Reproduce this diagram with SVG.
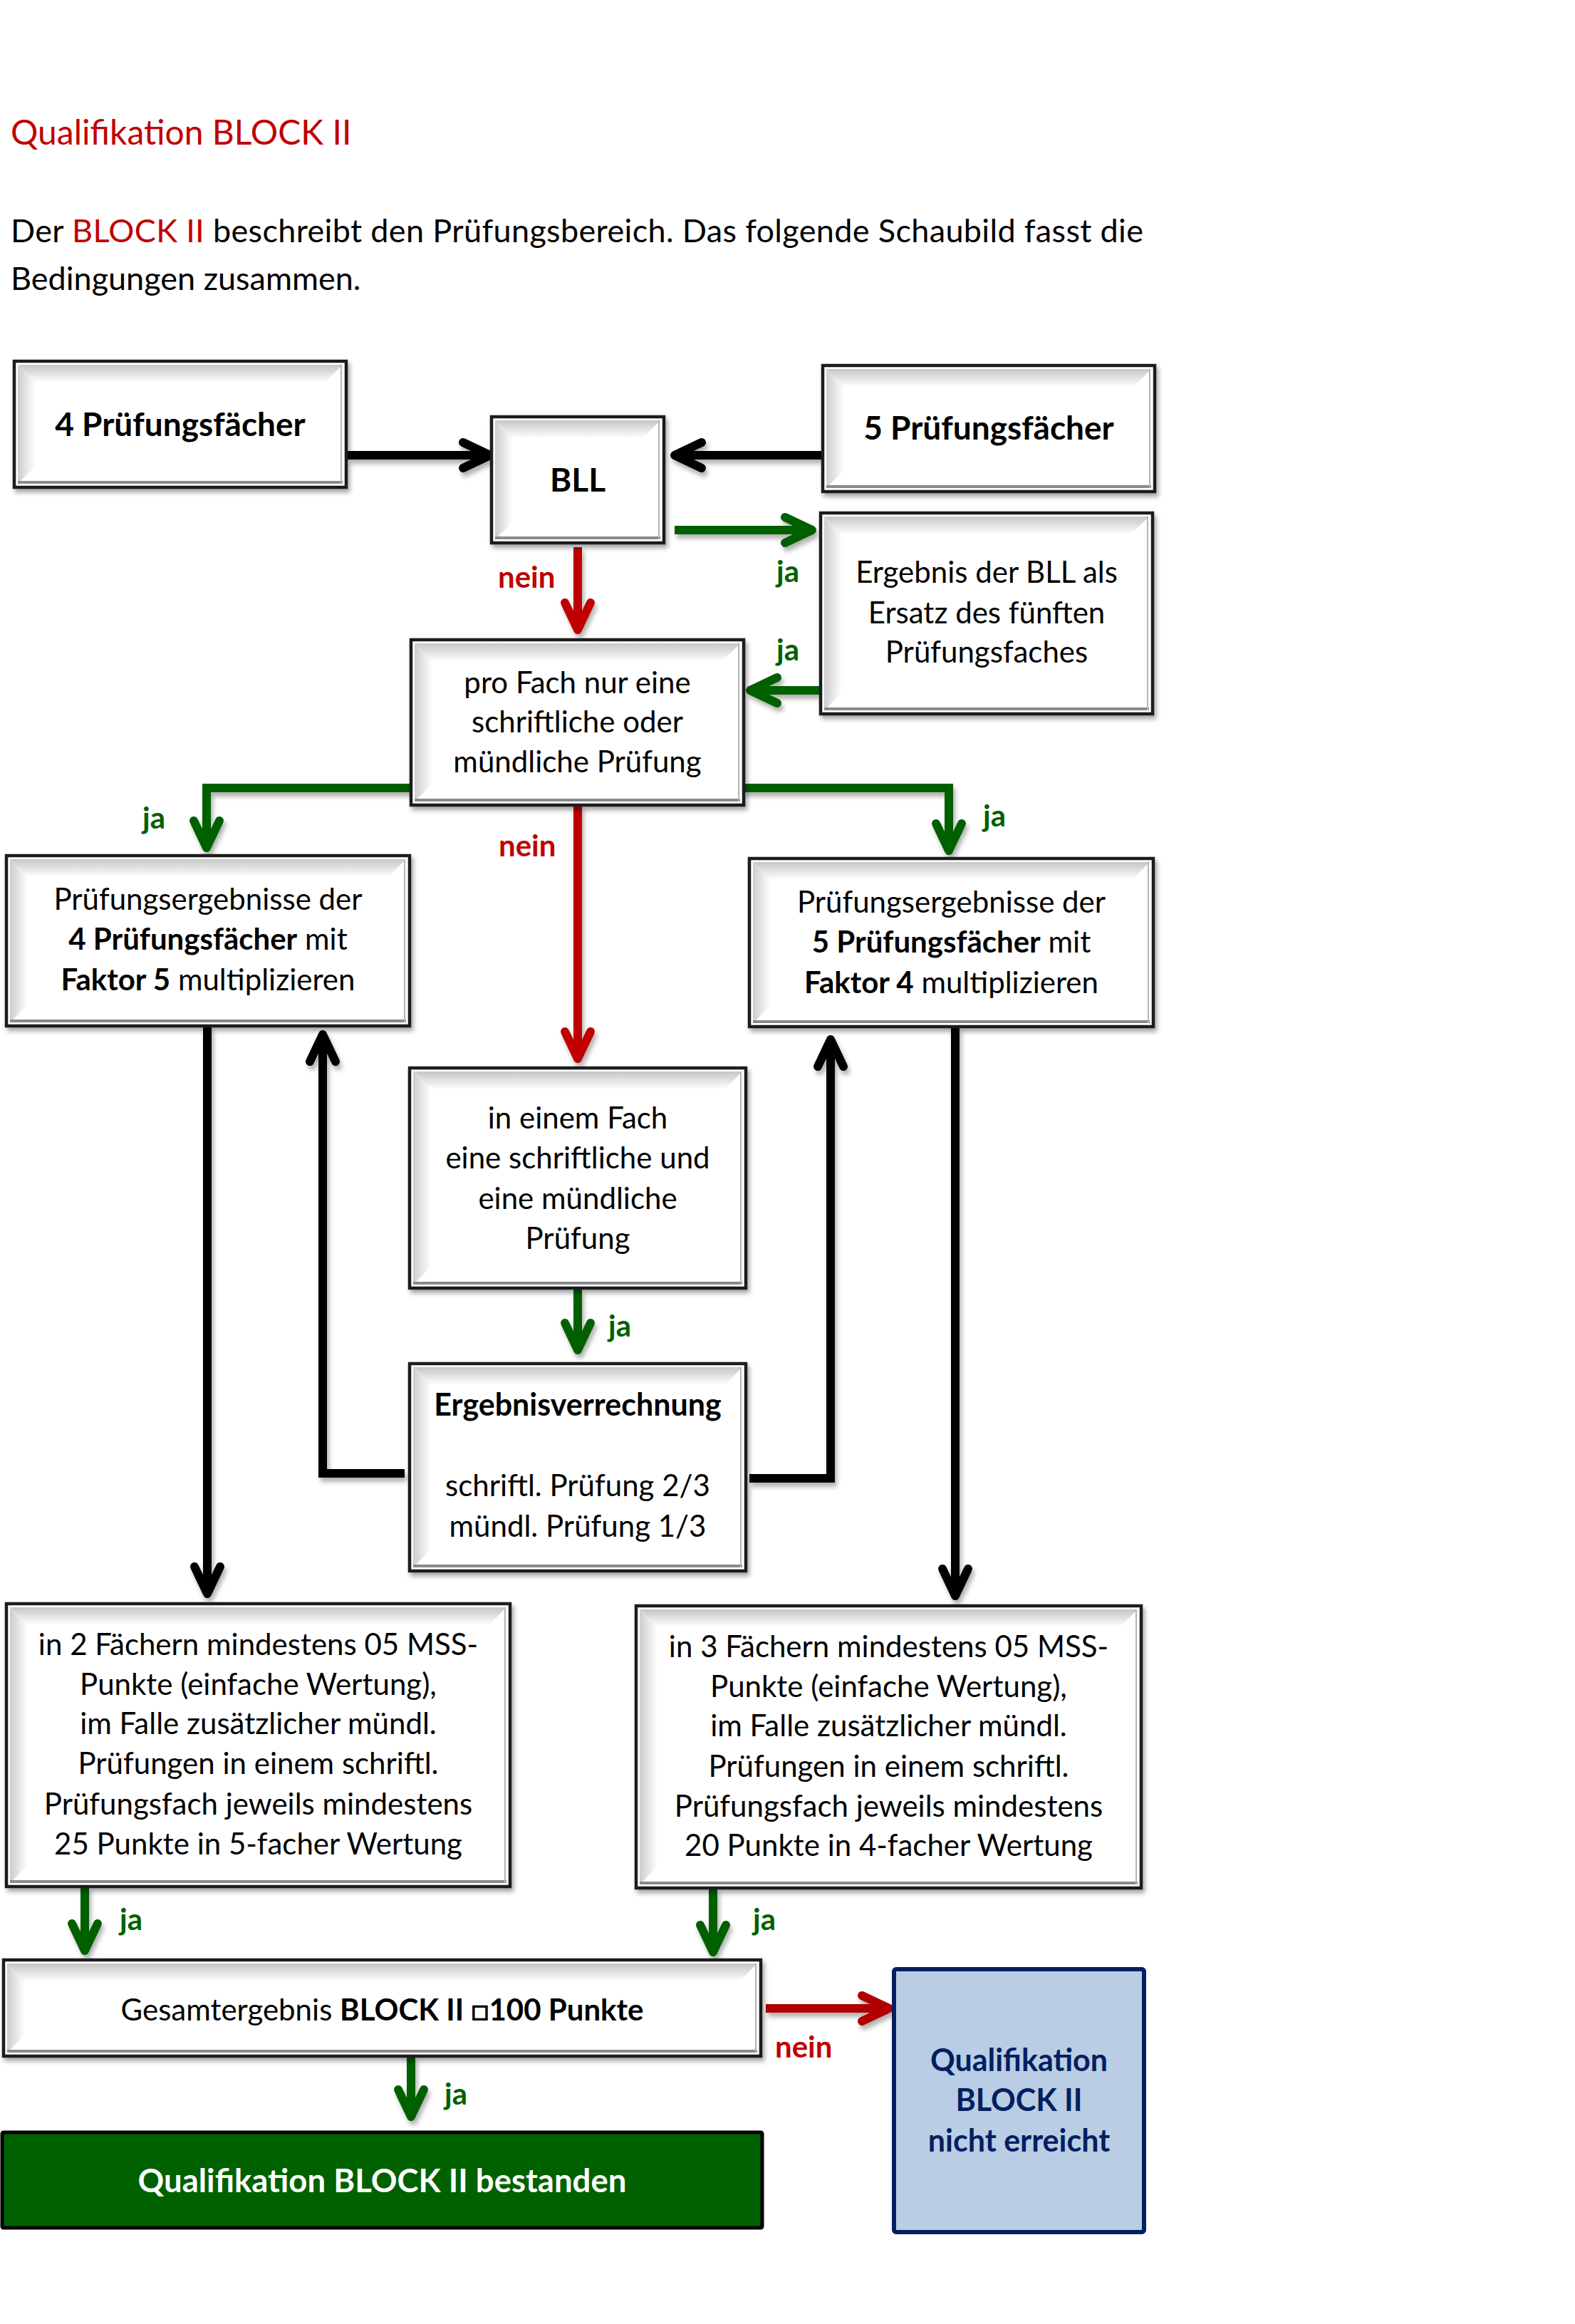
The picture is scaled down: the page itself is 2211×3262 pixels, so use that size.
<svg xmlns="http://www.w3.org/2000/svg" width="2211" height="3262" viewBox="0 0 2211 3262">
<style>
text{font-family:Lato,"Liberation Sans",sans-serif;fill:#000}
.r{font-size:42px}
.p{font-size:45px}
.b{font-size:46px;font-weight:bold}
.bb{font-weight:bold}
.b43{font-size:43px;font-weight:bold}
.m{text-anchor:middle}
.lbj{font-size:42px;font-weight:bold;fill:#006100}
.lbn{font-size:42px;font-weight:bold;fill:#c00000}
.box{fill:#fff;stroke:#1e1e1e;stroke-width:4.5;filter:url(#sh)}
.bt{fill:url(#gT)}
.bl{fill:url(#gL)}
.bo{stroke:#8a8a8a;stroke-width:4;fill:none}
.ri{stroke:#b4b4b4;stroke-width:2;fill:none}
.c{fill:none;stroke-width:12;stroke-linejoin:miter}
.k{stroke:#000}
.g{stroke:#006100}
.rd{stroke:#c00000}
</style>
<defs>
<linearGradient id="gT" x1="0" y1="0" x2="0" y2="1"><stop offset="0" stop-color="#c6c6c6"/><stop offset="1" stop-color="#fdfdfd"/></linearGradient>
<linearGradient id="gL" x1="0" y1="0" x2="1" y2="0"><stop offset="0" stop-color="#cdcdcd"/><stop offset="1" stop-color="#fdfdfd"/></linearGradient>
<filter id="sh" x="-10%" y="-10%" width="125%" height="130%"><feDropShadow dx="3" dy="5" stdDeviation="3" flood-color="#000" flood-opacity="0.35"/></filter>
<filter id="shc" x="-5%" y="-5%" width="115%" height="115%"><feDropShadow dx="3" dy="6" stdDeviation="3" flood-color="#000" flood-opacity="0.3"/></filter>
<marker id="mk" viewBox="-60 -40 80 80" refX="0" refY="0" markerWidth="80" markerHeight="80" markerUnits="userSpaceOnUse" orient="auto" overflow="visible"><path d="M-38,-18 L0,0 L-38,18" fill="none" stroke="#000" stroke-width="12" stroke-linecap="round" stroke-linejoin="round"/></marker>
<marker id="mg" viewBox="-60 -40 80 80" refX="0" refY="0" markerWidth="80" markerHeight="80" markerUnits="userSpaceOnUse" orient="auto" overflow="visible"><path d="M-38,-18 L0,0 L-38,18" fill="none" stroke="#006100" stroke-width="12" stroke-linecap="round" stroke-linejoin="round"/></marker>
<marker id="mr" viewBox="-60 -40 80 80" refX="0" refY="0" markerWidth="80" markerHeight="80" markerUnits="userSpaceOnUse" orient="auto" overflow="visible"><path d="M-38,-18 L0,0 L-38,18" fill="none" stroke="#c00000" stroke-width="12" stroke-linecap="round" stroke-linejoin="round"/></marker>
<marker id="mr2" viewBox="-60 -40 80 80" refX="0" refY="0" markerWidth="80" markerHeight="80" markerUnits="userSpaceOnUse" orient="auto" overflow="visible"><path d="M-38,-18 L0,0 L-38,18" fill="none" stroke="#b00000" stroke-width="12" stroke-linecap="round" stroke-linejoin="round"/></marker>
</defs>
<rect width="2211" height="3262" fill="#fff"/>

<g id="header">
<text x="15" y="203" style="font-size:48px;fill:#c00000">Qualifikation BLOCK II</text>
<text x="15" y="340" class="p" textLength="1590" lengthAdjust="spacing">Der <tspan fill="#c00000">BLOCK II</tspan> beschreibt den Prüfungsbereich. Das folgende Schaubild fasst die</text>
<text x="15" y="407" class="p">Bedingungen zusammen.</text>
</g>

<g id="connectors" filter="url(#shc)">
<path class="c k" d="M488,639 H688" marker-end="url(#mk)"/>
<path class="c k" d="M1153,639 H947" marker-end="url(#mk)"/>
<path class="c g" d="M947,744 H1140" marker-end="url(#mg)"/>
<path class="c rd" d="M811,768 V884" marker-end="url(#mr)"/>
<path class="c g" d="M1150,969 H1053" marker-end="url(#mg)"/>
<path class="c g" d="M578,1106 H290 V1190" marker-end="url(#mg)"/>
<path class="c g" d="M1043,1106 H1332 V1194" marker-end="url(#mg)"/>
<path class="c rd" d="M811,1130 V1486" marker-end="url(#mr)"/>
<path class="c g" d="M811,1809 V1895" marker-end="url(#mg)"/>
<path class="c k" d="M568,2068 H453 V1452" marker-end="url(#mk)"/>
<path class="c k" d="M1052,2075 H1166 V1459" marker-end="url(#mk)"/>
<path class="c k" d="M291,1440 V2237" marker-end="url(#mk)"/>
<path class="c k" d="M1341,1441 V2240" marker-end="url(#mk)"/>
<path class="c g" d="M119,2648 V2738" marker-end="url(#mg)"/>
<path class="c g" d="M1001,2650 V2740" marker-end="url(#mg)"/>
<path class="c" style="stroke:#b00000" d="M1075,2819 H1248" marker-end="url(#mr2)"/>
<path class="c g" d="M577,2886 V2971" marker-end="url(#mg)"/>
</g>

<g id="labels">
<text x="1090" y="817" class="lbj">ja</text>
<text x="1090" y="927" class="lbj">ja</text>
<text x="699" y="825" class="lbn">nein</text>
<text x="200" y="1163" class="lbj">ja</text>
<text x="1380" y="1160" class="lbj">ja</text>
<text x="700" y="1202" class="lbn">nein</text>
<text x="854" y="1876" class="lbj">ja</text>
<text x="168" y="2709" class="lbj">ja</text>
<text x="1057" y="2709" class="lbj">ja</text>
<text x="624" y="2954" class="lbj">ja</text>
<text x="1088" y="2888" class="lbn">nein</text>
</g>

<g id="n4pf" transform="translate(20,507)">
<rect class="box" width="466" height="177"/>
<path class="bt" d="M5,5 H461 L437,29 H29 Z"/><path class="bl" d="M5,5 L29,29 V148 L5,172 Z"/>
<path class="bo" d="M5,170 H461"/><path class="ri" d="M459,5 V172"/>
<text x="233" y="105" class="b m">4 Prüfungsfächer</text>
</g>

<g id="nbll" transform="translate(690,585)">
<rect class="box" width="242" height="177"/>
<path class="bt" d="M5,5 H237 L213,29 H29 Z"/><path class="bl" d="M5,5 L29,29 V148 L5,172 Z"/>
<path class="bo" d="M5,170 H237"/><path class="ri" d="M235,5 V172"/>
<text x="121" y="105" class="b m">BLL</text>
</g>

<g id="n5pf" transform="translate(1155,513)">
<rect class="box" width="466" height="177"/>
<path class="bt" d="M5,5 H461 L437,29 H29 Z"/><path class="bl" d="M5,5 L29,29 V148 L5,172 Z"/>
<path class="bo" d="M5,170 H461"/><path class="ri" d="M459,5 V172"/>
<text x="233" y="104" class="b m">5 Prüfungsfächer</text>
</g>

<g id="nerg" transform="translate(1152,720)">
<rect class="box" width="466" height="282"/>
<path class="bt" d="M5,5 H461 L437,29 H29 Z"/><path class="bl" d="M5,5 L29,29 V253 L5,277 Z"/>
<path class="bo" d="M5,275 H461"/><path class="ri" d="M459,5 V277"/>
<text class="r m"><tspan x="233" y="98">Ergebnis der BLL als</tspan><tspan x="233" y="155">Ersatz des fünften</tspan><tspan x="233" y="210">Prüfungsfaches</tspan></text>
</g>

<g id="npro" transform="translate(577,898)">
<rect class="box" width="467" height="232"/>
<path class="bt" d="M5,5 H462 L438,29 H29 Z"/><path class="bl" d="M5,5 L29,29 V203 L5,227 Z"/>
<path class="bo" d="M5,225 H462"/><path class="ri" d="M460,5 V227"/>
<text class="r m"><tspan x="233.5" y="75">pro Fach nur eine</tspan><tspan x="233.5" y="130">schriftliche oder</tspan><tspan x="233.5" y="186">mündliche Prüfung</tspan></text>
</g>

<g id="nl1" transform="translate(9,1201)">
<rect class="box" width="566" height="239"/>
<path class="bt" d="M5,5 H561 L537,29 H29 Z"/><path class="bl" d="M5,5 L29,29 V210 L5,234 Z"/>
<path class="bo" d="M5,232 H561"/><path class="ri" d="M559,5 V234"/>
<text class="r m"><tspan x="283" y="76">Prüfungsergebnisse der</tspan><tspan x="283" y="132"><tspan class="bb">4 Prüfungsfächer</tspan> mit</tspan><tspan x="283" y="189"><tspan class="bb">Faktor 5</tspan> multiplizieren</tspan></text>
</g>

<g id="nr1" transform="translate(1052,1205)">
<rect class="box" width="567" height="236"/>
<path class="bt" d="M5,5 H562 L538,29 H29 Z"/><path class="bl" d="M5,5 L29,29 V207 L5,231 Z"/>
<path class="bo" d="M5,229 H562"/><path class="ri" d="M560,5 V231"/>
<text class="r m"><tspan x="283.5" y="76">Prüfungsergebnisse der</tspan><tspan x="283.5" y="132"><tspan class="bb">5 Prüfungsfächer</tspan> mit</tspan><tspan x="283.5" y="189"><tspan class="bb">Faktor 4</tspan> multiplizieren</tspan></text>
</g>

<g id="nfach" transform="translate(575,1499)">
<rect class="box" width="472" height="309"/>
<path class="bt" d="M5,5 H467 L443,29 H29 Z"/><path class="bl" d="M5,5 L29,29 V280 L5,304 Z"/>
<path class="bo" d="M5,302 H467"/><path class="ri" d="M465,5 V304"/>
<text class="r m"><tspan x="236" y="85">in einem Fach</tspan><tspan x="236" y="141">eine schriftliche und</tspan><tspan x="236" y="198">eine mündliche</tspan><tspan x="236" y="254">Prüfung</tspan></text>
</g>

<g id="nver" transform="translate(575,1914)">
<rect class="box" width="472" height="291"/>
<path class="bt" d="M5,5 H467 L443,29 H29 Z"/><path class="bl" d="M5,5 L29,29 V262 L5,286 Z"/>
<path class="bo" d="M5,284 H467"/><path class="ri" d="M465,5 V286"/>
<text x="236" y="73" class="b43 m">Ergebnisverrechnung</text>
<text class="r m"><tspan x="236" y="186">schriftl. Prüfung 2/3</tspan><tspan x="236" y="243">mündl. Prüfung 1/3</tspan></text>
</g>

<g id="nl2" transform="translate(9,2251)">
<rect class="box" width="707" height="397"/>
<path class="bt" d="M5,5 H702 L678,29 H29 Z"/><path class="bl" d="M5,5 L29,29 V368 L5,392 Z"/>
<path class="bo" d="M5,390 H702"/><path class="ri" d="M700,5 V392"/>
<text class="r m"><tspan x="353.5" y="72">in 2 Fächern mindestens 05 MSS-</tspan><tspan x="353.5" y="128">Punkte (einfache Wertung),</tspan><tspan x="353.5" y="183">im Falle zusätzlicher mündl.</tspan><tspan x="353.5" y="239">Prüfungen in einem schriftl.</tspan><tspan x="353.5" y="296">Prüfungsfach jeweils mindestens</tspan><tspan x="353.5" y="352">25 Punkte in 5-facher Wertung</tspan></text>
</g>

<g id="nr2" transform="translate(893,2254)">
<rect class="box" width="709" height="396"/>
<path class="bt" d="M5,5 H704 L680,29 H29 Z"/><path class="bl" d="M5,5 L29,29 V367 L5,391 Z"/>
<path class="bo" d="M5,389 H704"/><path class="ri" d="M702,5 V391"/>
<text class="r m"><tspan x="354.5" y="72">in 3 Fächern mindestens 05 MSS-</tspan><tspan x="354.5" y="128">Punkte (einfache Wertung),</tspan><tspan x="354.5" y="183">im Falle zusätzlicher mündl.</tspan><tspan x="354.5" y="240">Prüfungen in einem schriftl.</tspan><tspan x="354.5" y="296">Prüfungsfach jeweils mindestens</tspan><tspan x="354.5" y="351">20 Punkte in 4-facher Wertung</tspan></text>
</g>

<g id="nges" transform="translate(5,2751)">
<rect class="box" width="1063" height="135"/>
<path class="bt" d="M5,5 H1058 L1034,29 H29 Z"/><path class="bl" d="M5,5 L29,29 V106 L5,130 Z"/>
<path class="bo" d="M5,128 H1058"/><path class="ri" d="M1056,5 V130"/>
<text x="531.5" y="85" class="r m">Gesamtergebnis <tspan class="bb">BLOCK II □100 Punkte</tspan></text>
</g>

<g id="ngreen" transform="translate(3,2993)">
<rect width="1067" height="134" fill="#006100" stroke="#000" stroke-width="5" rx="2"/>
<text x="533.5" y="84" class="m" style="font-size:45.5px;font-weight:bold;fill:#fff">Qualifikation BLOCK II bestanden</text>
</g>

<g id="nblue" transform="translate(1255,2764)">
<rect width="351" height="369" fill="#b9cde5" stroke="#002060" stroke-width="6" rx="3"/>
<text class="b43 m" style="fill:#002060"><tspan x="175.5" y="143">Qualifikation</tspan><tspan x="175.5" y="199">BLOCK II</tspan><tspan x="175.5" y="256">nicht erreicht</tspan></text>
</g>
</svg>
